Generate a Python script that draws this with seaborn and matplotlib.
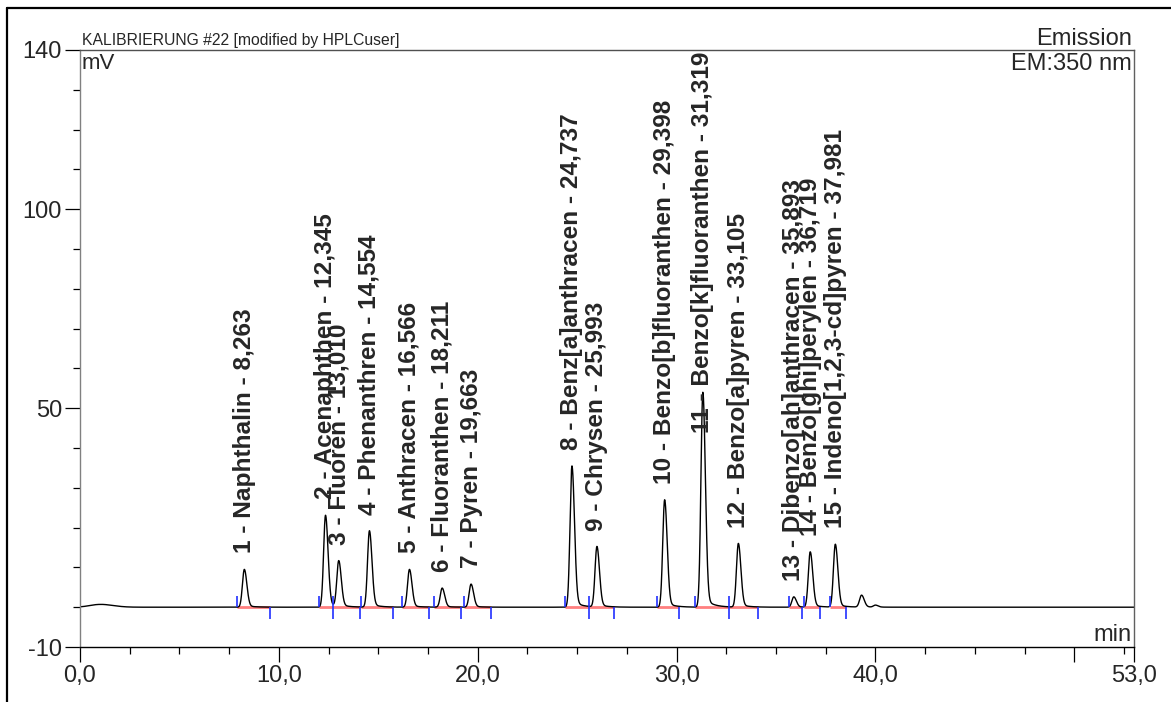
import numpy as np
import pandas as pd
import seaborn as sns
import matplotlib.pyplot as plt
from matplotlib.lines import Line2D
from matplotlib.ticker import FixedLocator, MultipleLocator

# peak table
peak_names = ['Naphthalin', 'Acenaphthen', 'Fluoren', 'Phenanthren', 'Anthracen',
              'Fluoranthen', 'Pyren', 'Benz[a]anthracen', 'Chrysen',
              'Benzo[b]fluoranthen', 'Benzo[k]fluoranthen', 'Benzo[a]pyren',
              'Dibenzo[ah]anthracen', 'Benzo[ghi]perylen', 'Indeno[1,2,3-cd]pyren']
retention = [8.263, 12.345, 13.010, 14.554, 16.566, 18.211, 19.663, 24.737,
             25.993, 29.398, 31.319, 33.105, 35.893, 36.719, 37.981]
heights = [9.5, 23.1, 11.5, 19.2, 9.5, 4.8, 5.8, 35.5, 15.2, 27.0, 54.0, 16.0,
           2.6, 13.9, 15.8]
peak_start = [7.91, 12.00, 12.74, 14.12, 16.20, 17.80, 19.29, 24.38, 25.61,
              29.02, 30.93, 32.65, 35.65, 36.40, 37.71]
peak_end = [9.55, 12.74, 14.08, 15.75, 17.55, 19.14, 20.66, 25.61, 26.86,
            30.10, 32.65, 34.07, 36.33, 37.20, 38.51]

# small unnamed signals
extra_rt = [1.0, 39.3, 40.0]
extra_h = [0.7, 3.0, 0.5]
extra_w = [0.5, 0.1, 0.1]

x_ticks = [0, 10, 20, 30, 40, 50, 53]
x_labels = ['0,0', '10,0', '20,0', '30,0', '40,0', '', '53,0']
y_ticks = [-10, 50, 100, 140]
y_labels = ['-10', '50', '100', '140']


def peak_shape(t, rt, h, sl, sr):
    s = np.where(t < rt, sl, sr)
    g = h * np.exp(-0.5 * ((t - rt) / s) ** 2)
    d = np.clip(t - rt, 0, None)
    tail = 0.05 * h * (1 - np.exp(-(d / 0.15) ** 2)) * np.exp(-d / 0.4)
    return g + tail


t = np.linspace(0, 53, 10601)
signal = np.zeros_like(t)
for rt, h in zip(retention, heights):
    signal += peak_shape(t, rt, h, 0.095, 0.125)
for rt, h, w in zip(extra_rt, extra_h, extra_w):
    signal += peak_shape(t, rt, h, w, w * 1.3)
trace = pd.DataFrame({'min': t, 'mV': signal})

sns.set_style('white')
plt.rcParams['font.family'] = ['Liberation Sans', 'DejaVu Sans']

W, H = 1171, 702
fig = plt.figure(figsize=(W / 100, H / 100), dpi=100)
ax = fig.add_axes([80 / W, 1 - 647 / H, (1134 - 80) / W, (647 - 50) / H])

sns.lineplot(data=trace, x='min', y='mV', ax=ax, color='black', lw=1.0)

# integration baselines and delimiters
zeros = np.zeros(len(peak_start))
ax.hlines(zeros, peak_start, peak_end, color='#ff2a2a', lw=2.0, alpha=0.6, zorder=1)
ax.vlines(peak_start, zeros, zeros + 2.9, color='#2030ff', lw=1.2, zorder=3)
ax.vlines(peak_end, zeros - 2.9, zeros, color='#2030ff', lw=1.2, zorder=3)

ax.set_xlim(0, 53)
ax.set_ylim(-10, 140)
ax.set_xlabel('')
ax.set_ylabel('')

ax.xaxis.set_major_locator(FixedLocator(x_ticks))
ax.set_xticklabels(x_labels)
ax.xaxis.set_minor_locator(MultipleLocator(2.5))
ax.yaxis.set_major_locator(FixedLocator(y_ticks))
ax.set_yticklabels(y_labels)
ax.yaxis.set_minor_locator(MultipleLocator(10))
ax.tick_params(which='major', length=11, width=0.9, color='black',
               labelsize=17, pad=2)
ax.tick_params(which='minor', length=5, width=0.9, color='black')
ax.tick_params(left=True, bottom=True, which='both')

ax.spines['left'].set_color('#808080')
ax.spines['bottom'].set_color('black')
ax.spines['top'].set_color('#505050')
ax.spines['right'].set_color('#606060')
for sp in ax.spines.values():
    sp.set_linewidth(1.0)

# header texts
ax.annotate('KALIBRIERUNG #22 [modified by HPLCuser]', xy=(0, 1),
            xycoords='axes fraction', xytext=(2, 5), textcoords='offset pixels',
            ha='left', va='baseline', fontsize=11.3)
ax.annotate('Emission', xy=(1, 1), xycoords='axes fraction', xytext=(-2, 5),
            textcoords='offset pixels', ha='right', va='baseline', fontsize=17)
ax.annotate('mV', xy=(0, 1), xycoords='axes fraction', xytext=(2, -3),
            textcoords='offset pixels', ha='left', va='top', fontsize=16)
ax.annotate('EM:350 nm', xy=(1, 1), xycoords='axes fraction', xytext=(-2, -3),
            textcoords='offset pixels', ha='right', va='top', fontsize=17)
ax.annotate('min', xy=(1, 0), xycoords='axes fraction', xytext=(-2, 6),
            textcoords='offset pixels', ha='right', va='baseline', fontsize=17)

# peak labels
labels = []
for i, (name, rt, h) in enumerate(zip(peak_names, retention, heights), start=1):
    txt = f'{i} - {name} - {rt:.3f}'.replace('.', ',')
    a = ax.annotate(txt, xy=(rt, h), xytext=(0, 16), textcoords='offset pixels',
                    rotation=90, ha='center', va='bottom', fontsize=17.6,
                    fontweight='bold')
    labels.append(a)

# keep labels inside the plot area
fig.canvas.draw()
renderer = fig.canvas.get_renderer()
ax_top = ax.get_window_extent(renderer).y1
for a in labels:
    bb = a.get_window_extent(renderer)
    if bb.y1 > ax_top - 2:
        a.set_position((0, 16 - (bb.y1 - ax_top + 2)))

# outer frame (left and top edges visible)
fig.add_artist(Line2D([7 / W, 7 / W], [0, 1 - 8 / H], color='black', lw=1.6))
fig.add_artist(Line2D([7 / W, 1], [1 - 8 / H, 1 - 8 / H], color='black', lw=1.6))

fig.savefig('out.png', dpi=100)
